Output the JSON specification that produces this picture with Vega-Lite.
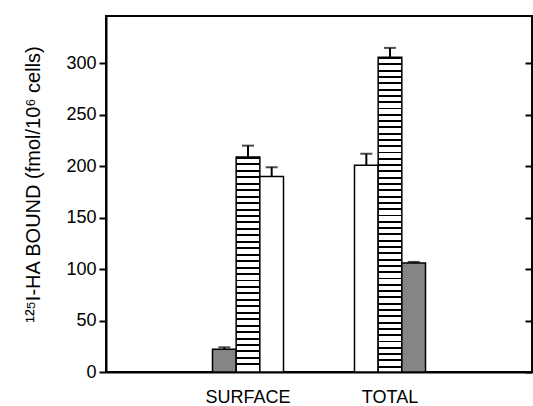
{
 "$schema": "https://vega.github.io/schema/vega-lite/v6.json",
 "width": 426,
 "height": 356,
 "autosize": {"type": "none"},
 "padding": {"left": 106, "top": 16, "right": 1, "bottom": 34},
 "background": "white",
 "config": {
  "view": {"stroke": "black", "strokeWidth": 2},
  "font": "Liberation Sans",
  "axis": {"domainColor": "black", "domainWidth": 2, "tickColor": "black", "tickWidth": 2, "labelColor": "black", "titleColor": "black", "grid": false}
 },
 "data": {"values": [
  {"group": "SURFACE", "slot": 1, "series": "A", "value": 22, "hi": 24},
  {"group": "SURFACE", "slot": 2, "series": "B", "value": 209, "hi": 220},
  {"group": "SURFACE", "slot": 3, "series": "C", "value": 190, "hi": 199},
  {"group": "TOTAL", "slot": 1, "series": "C", "value": 201, "hi": 212},
  {"group": "TOTAL", "slot": 2, "series": "B", "value": 306, "hi": 315},
  {"group": "TOTAL", "slot": 3, "series": "A", "value": 106, "hi": 107}
 ]},
 "encoding": {
  "x": {"field": "group", "type": "nominal", "scale": {"domain": ["SURFACE", "TOTAL"], "paddingInner": 0.5, "paddingOuter": 0.75},
   "axis": {"title": null, "ticks": false, "labelAngle": 0, "labelFontSize": 18, "labelPadding": 16}},
  "xOffset": {"field": "slot", "type": "ordinal", "scale": {"paddingInner": 0, "paddingOuter": 0}}
 },
 "layer": [
  {
   "mark": {"type": "bar", "stroke": "black", "strokeWidth": 1.5},
   "encoding": {
    "y": {"field": "value", "type": "quantitative", "scale": {"domain": [0, 346], "nice": false},
     "axis": {"values": [0, 50, 100, 150, 200, 250, 300], "tickSize": 7, "labelFontSize": 18, "labelPadding": 3,
      "title": "¹²⁵I-HA BOUND (fmol/10⁶ cells)", "titleFontSize": 20, "titleFontWeight": "normal", "titlePadding": 22, "titleY": 168}},
    "fill": {"condition": [
     {"test": "datum.series==='B' && datum.group==='TOTAL'", "value": {"gradient": "linear", "x1": 0, "y1": 0, "x2": 0, "y2": 1, "stops": [
      {"offset":0,"color":"#000"},{"offset":0.006,"color":"#000"},{"offset":0.006,"color":"#fff"},{"offset":0.02,"color":"#fff"},
      {"offset":0.02,"color":"#000"},{"offset":0.026,"color":"#000"},{"offset":0.026,"color":"#fff"},{"offset":0.04,"color":"#fff"},
      {"offset":0.04,"color":"#000"},{"offset":0.046,"color":"#000"},{"offset":0.046,"color":"#fff"},{"offset":0.06,"color":"#fff"},
      {"offset":0.06,"color":"#000"},{"offset":0.066,"color":"#000"},{"offset":0.066,"color":"#fff"},{"offset":0.08,"color":"#fff"},
      {"offset":0.08,"color":"#000"},{"offset":0.086,"color":"#000"},{"offset":0.086,"color":"#fff"},{"offset":0.10,"color":"#fff"},
      {"offset":0.10,"color":"#000"},{"offset":0.106,"color":"#000"},{"offset":0.106,"color":"#fff"},{"offset":0.12,"color":"#fff"},
      {"offset":0.12,"color":"#000"},{"offset":0.126,"color":"#000"},{"offset":0.126,"color":"#fff"},{"offset":0.14,"color":"#fff"},
      {"offset":0.14,"color":"#000"},{"offset":0.146,"color":"#000"},{"offset":0.146,"color":"#fff"},{"offset":0.16,"color":"#fff"},
      {"offset":0.16,"color":"#000"},{"offset":0.166,"color":"#000"},{"offset":0.166,"color":"#fff"},{"offset":0.18,"color":"#fff"},
      {"offset":0.18,"color":"#000"},{"offset":0.186,"color":"#000"},{"offset":0.186,"color":"#fff"},{"offset":0.20,"color":"#fff"},
      {"offset":0.20,"color":"#000"},{"offset":0.206,"color":"#000"},{"offset":0.206,"color":"#fff"},{"offset":0.22,"color":"#fff"},
      {"offset":0.22,"color":"#000"},{"offset":0.226,"color":"#000"},{"offset":0.226,"color":"#fff"},{"offset":0.24,"color":"#fff"},
      {"offset":0.24,"color":"#000"},{"offset":0.246,"color":"#000"},{"offset":0.246,"color":"#fff"},{"offset":0.26,"color":"#fff"},
      {"offset":0.26,"color":"#000"},{"offset":0.266,"color":"#000"},{"offset":0.266,"color":"#fff"},{"offset":0.28,"color":"#fff"},
      {"offset":0.28,"color":"#000"},{"offset":0.286,"color":"#000"},{"offset":0.286,"color":"#fff"},{"offset":0.30,"color":"#fff"},
      {"offset":0.30,"color":"#000"},{"offset":0.306,"color":"#000"},{"offset":0.306,"color":"#fff"},{"offset":0.32,"color":"#fff"},
      {"offset":0.32,"color":"#000"},{"offset":0.326,"color":"#000"},{"offset":0.326,"color":"#fff"},{"offset":0.34,"color":"#fff"},
      {"offset":0.34,"color":"#000"},{"offset":0.346,"color":"#000"},{"offset":0.346,"color":"#fff"},{"offset":0.36,"color":"#fff"},
      {"offset":0.36,"color":"#000"},{"offset":0.366,"color":"#000"},{"offset":0.366,"color":"#fff"},{"offset":0.38,"color":"#fff"},
      {"offset":0.38,"color":"#000"},{"offset":0.386,"color":"#000"},{"offset":0.386,"color":"#fff"},{"offset":0.40,"color":"#fff"},
      {"offset":0.40,"color":"#000"},{"offset":0.406,"color":"#000"},{"offset":0.406,"color":"#fff"},{"offset":0.42,"color":"#fff"},
      {"offset":0.42,"color":"#000"},{"offset":0.426,"color":"#000"},{"offset":0.426,"color":"#fff"},{"offset":0.44,"color":"#fff"},
      {"offset":0.44,"color":"#000"},{"offset":0.446,"color":"#000"},{"offset":0.446,"color":"#fff"},{"offset":0.46,"color":"#fff"},
      {"offset":0.46,"color":"#000"},{"offset":0.466,"color":"#000"},{"offset":0.466,"color":"#fff"},{"offset":0.48,"color":"#fff"},
      {"offset":0.48,"color":"#000"},{"offset":0.486,"color":"#000"},{"offset":0.486,"color":"#fff"},{"offset":0.50,"color":"#fff"},
      {"offset":0.50,"color":"#000"},{"offset":0.506,"color":"#000"},{"offset":0.506,"color":"#fff"},{"offset":0.52,"color":"#fff"},
      {"offset":0.52,"color":"#000"},{"offset":0.526,"color":"#000"},{"offset":0.526,"color":"#fff"},{"offset":0.54,"color":"#fff"},
      {"offset":0.54,"color":"#000"},{"offset":0.546,"color":"#000"},{"offset":0.546,"color":"#fff"},{"offset":0.56,"color":"#fff"},
      {"offset":0.56,"color":"#000"},{"offset":0.566,"color":"#000"},{"offset":0.566,"color":"#fff"},{"offset":0.58,"color":"#fff"},
      {"offset":0.58,"color":"#000"},{"offset":0.586,"color":"#000"},{"offset":0.586,"color":"#fff"},{"offset":0.60,"color":"#fff"},
      {"offset":0.60,"color":"#000"},{"offset":0.606,"color":"#000"},{"offset":0.606,"color":"#fff"},{"offset":0.62,"color":"#fff"},
      {"offset":0.62,"color":"#000"},{"offset":0.626,"color":"#000"},{"offset":0.626,"color":"#fff"},{"offset":0.64,"color":"#fff"},
      {"offset":0.64,"color":"#000"},{"offset":0.646,"color":"#000"},{"offset":0.646,"color":"#fff"},{"offset":0.66,"color":"#fff"},
      {"offset":0.66,"color":"#000"},{"offset":0.666,"color":"#000"},{"offset":0.666,"color":"#fff"},{"offset":0.68,"color":"#fff"},
      {"offset":0.68,"color":"#000"},{"offset":0.686,"color":"#000"},{"offset":0.686,"color":"#fff"},{"offset":0.70,"color":"#fff"},
      {"offset":0.70,"color":"#000"},{"offset":0.706,"color":"#000"},{"offset":0.706,"color":"#fff"},{"offset":0.72,"color":"#fff"},
      {"offset":0.72,"color":"#000"},{"offset":0.726,"color":"#000"},{"offset":0.726,"color":"#fff"},{"offset":0.74,"color":"#fff"},
      {"offset":0.74,"color":"#000"},{"offset":0.746,"color":"#000"},{"offset":0.746,"color":"#fff"},{"offset":0.76,"color":"#fff"},
      {"offset":0.76,"color":"#000"},{"offset":0.766,"color":"#000"},{"offset":0.766,"color":"#fff"},{"offset":0.78,"color":"#fff"},
      {"offset":0.78,"color":"#000"},{"offset":0.786,"color":"#000"},{"offset":0.786,"color":"#fff"},{"offset":0.80,"color":"#fff"},
      {"offset":0.80,"color":"#000"},{"offset":0.806,"color":"#000"},{"offset":0.806,"color":"#fff"},{"offset":0.82,"color":"#fff"},
      {"offset":0.82,"color":"#000"},{"offset":0.826,"color":"#000"},{"offset":0.826,"color":"#fff"},{"offset":0.84,"color":"#fff"},
      {"offset":0.84,"color":"#000"},{"offset":0.846,"color":"#000"},{"offset":0.846,"color":"#fff"},{"offset":0.86,"color":"#fff"},
      {"offset":0.86,"color":"#000"},{"offset":0.866,"color":"#000"},{"offset":0.866,"color":"#fff"},{"offset":0.88,"color":"#fff"},
      {"offset":0.88,"color":"#000"},{"offset":0.886,"color":"#000"},{"offset":0.886,"color":"#fff"},{"offset":0.90,"color":"#fff"},
      {"offset":0.90,"color":"#000"},{"offset":0.906,"color":"#000"},{"offset":0.906,"color":"#fff"},{"offset":0.92,"color":"#fff"},
      {"offset":0.92,"color":"#000"},{"offset":0.926,"color":"#000"},{"offset":0.926,"color":"#fff"},{"offset":0.94,"color":"#fff"},
      {"offset":0.94,"color":"#000"},{"offset":0.946,"color":"#000"},{"offset":0.946,"color":"#fff"},{"offset":0.96,"color":"#fff"},
      {"offset":0.96,"color":"#000"},{"offset":0.966,"color":"#000"},{"offset":0.966,"color":"#fff"},{"offset":0.98,"color":"#fff"},
      {"offset":0.98,"color":"#000"},{"offset":0.986,"color":"#000"},{"offset":0.986,"color":"#fff"},{"offset":1,"color":"#fff"}
     ]}},
     {"test": "datum.series==='B'", "value": {"gradient": "linear", "x1": 0, "y1": 0, "x2": 0, "y2": 1, "stops": [
      {"offset":0,"color":"#000"},{"offset":0.009,"color":"#000"},{"offset":0.009,"color":"#fff"},{"offset":0.03,"color":"#fff"},
      {"offset":0.03,"color":"#000"},{"offset":0.039,"color":"#000"},{"offset":0.039,"color":"#fff"},{"offset":0.06,"color":"#fff"},
      {"offset":0.06,"color":"#000"},{"offset":0.069,"color":"#000"},{"offset":0.069,"color":"#fff"},{"offset":0.09,"color":"#fff"},
      {"offset":0.09,"color":"#000"},{"offset":0.099,"color":"#000"},{"offset":0.099,"color":"#fff"},{"offset":0.12,"color":"#fff"},
      {"offset":0.12,"color":"#000"},{"offset":0.129,"color":"#000"},{"offset":0.129,"color":"#fff"},{"offset":0.15,"color":"#fff"},
      {"offset":0.15,"color":"#000"},{"offset":0.159,"color":"#000"},{"offset":0.159,"color":"#fff"},{"offset":0.18,"color":"#fff"},
      {"offset":0.18,"color":"#000"},{"offset":0.189,"color":"#000"},{"offset":0.189,"color":"#fff"},{"offset":0.21,"color":"#fff"},
      {"offset":0.21,"color":"#000"},{"offset":0.219,"color":"#000"},{"offset":0.219,"color":"#fff"},{"offset":0.24,"color":"#fff"},
      {"offset":0.24,"color":"#000"},{"offset":0.249,"color":"#000"},{"offset":0.249,"color":"#fff"},{"offset":0.27,"color":"#fff"},
      {"offset":0.27,"color":"#000"},{"offset":0.279,"color":"#000"},{"offset":0.279,"color":"#fff"},{"offset":0.30,"color":"#fff"},
      {"offset":0.30,"color":"#000"},{"offset":0.309,"color":"#000"},{"offset":0.309,"color":"#fff"},{"offset":0.33,"color":"#fff"},
      {"offset":0.33,"color":"#000"},{"offset":0.339,"color":"#000"},{"offset":0.339,"color":"#fff"},{"offset":0.36,"color":"#fff"},
      {"offset":0.36,"color":"#000"},{"offset":0.369,"color":"#000"},{"offset":0.369,"color":"#fff"},{"offset":0.39,"color":"#fff"},
      {"offset":0.39,"color":"#000"},{"offset":0.399,"color":"#000"},{"offset":0.399,"color":"#fff"},{"offset":0.42,"color":"#fff"},
      {"offset":0.42,"color":"#000"},{"offset":0.429,"color":"#000"},{"offset":0.429,"color":"#fff"},{"offset":0.45,"color":"#fff"},
      {"offset":0.45,"color":"#000"},{"offset":0.459,"color":"#000"},{"offset":0.459,"color":"#fff"},{"offset":0.48,"color":"#fff"},
      {"offset":0.48,"color":"#000"},{"offset":0.489,"color":"#000"},{"offset":0.489,"color":"#fff"},{"offset":0.51,"color":"#fff"},
      {"offset":0.51,"color":"#000"},{"offset":0.519,"color":"#000"},{"offset":0.519,"color":"#fff"},{"offset":0.54,"color":"#fff"},
      {"offset":0.54,"color":"#000"},{"offset":0.549,"color":"#000"},{"offset":0.549,"color":"#fff"},{"offset":0.57,"color":"#fff"},
      {"offset":0.57,"color":"#000"},{"offset":0.579,"color":"#000"},{"offset":0.579,"color":"#fff"},{"offset":0.60,"color":"#fff"},
      {"offset":0.60,"color":"#000"},{"offset":0.609,"color":"#000"},{"offset":0.609,"color":"#fff"},{"offset":0.63,"color":"#fff"},
      {"offset":0.63,"color":"#000"},{"offset":0.639,"color":"#000"},{"offset":0.639,"color":"#fff"},{"offset":0.66,"color":"#fff"},
      {"offset":0.66,"color":"#000"},{"offset":0.669,"color":"#000"},{"offset":0.669,"color":"#fff"},{"offset":0.69,"color":"#fff"},
      {"offset":0.69,"color":"#000"},{"offset":0.699,"color":"#000"},{"offset":0.699,"color":"#fff"},{"offset":0.72,"color":"#fff"},
      {"offset":0.72,"color":"#000"},{"offset":0.729,"color":"#000"},{"offset":0.729,"color":"#fff"},{"offset":0.75,"color":"#fff"},
      {"offset":0.75,"color":"#000"},{"offset":0.759,"color":"#000"},{"offset":0.759,"color":"#fff"},{"offset":0.78,"color":"#fff"},
      {"offset":0.78,"color":"#000"},{"offset":0.789,"color":"#000"},{"offset":0.789,"color":"#fff"},{"offset":0.81,"color":"#fff"},
      {"offset":0.81,"color":"#000"},{"offset":0.819,"color":"#000"},{"offset":0.819,"color":"#fff"},{"offset":0.84,"color":"#fff"},
      {"offset":0.84,"color":"#000"},{"offset":0.849,"color":"#000"},{"offset":0.849,"color":"#fff"},{"offset":0.87,"color":"#fff"},
      {"offset":0.87,"color":"#000"},{"offset":0.879,"color":"#000"},{"offset":0.879,"color":"#fff"},{"offset":0.90,"color":"#fff"},
      {"offset":0.90,"color":"#000"},{"offset":0.909,"color":"#000"},{"offset":0.909,"color":"#fff"},{"offset":0.93,"color":"#fff"},
      {"offset":0.93,"color":"#000"},{"offset":0.939,"color":"#000"},{"offset":0.939,"color":"#fff"},{"offset":0.96,"color":"#fff"},
      {"offset":0.96,"color":"#000"},{"offset":0.969,"color":"#000"},{"offset":0.969,"color":"#fff"},{"offset":1,"color":"#fff"}
     ]}},
     {"test": "datum.series==='A'", "value": "#858585"}
    ], "value": "white"}
   }
  },
  {
   "mark": {"type": "rule", "strokeWidth": 2, "color": "black"},
   "encoding": {
    "y": {"field": "value", "type": "quantitative", "axis": null},
    "y2": {"field": "hi"}
   }
  },
  {
   "mark": {"type": "tick", "color": "black", "thickness": 2, "size": 12},
   "encoding": {
    "y": {"field": "hi", "type": "quantitative",
     "axis": {"orient": "right", "values": [0, 50, 100, 150, 200, 250, 300], "labels": false, "tickSize": 7, "offset": -7, "domain": false, "title": null}}
   }
  }
 ],
 "resolve": {"axis": {"y": "independent"}}
}
